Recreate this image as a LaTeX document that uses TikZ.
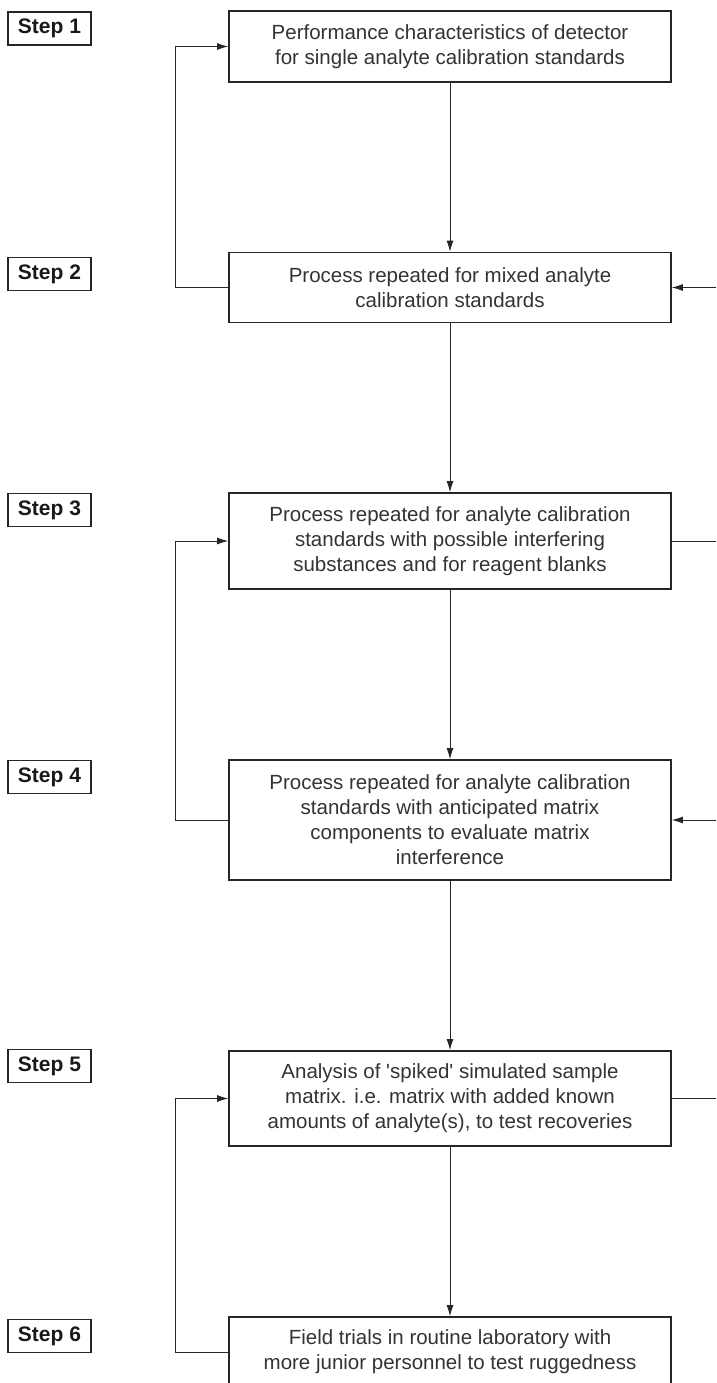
\documentclass[tikz,border=0pt]{standalone}
\usepackage{fontspec}
\setmainfont{Liberation Sans}
\usetikzlibrary{arrows.meta}
\begin{document}
\begin{tikzpicture}[x=1pt,y=-1pt,
 proc/.style={draw=black!85, line width=1.7pt, minimum width=442pt, align=center,
   font=\fontsize{20.5}{25}\selectfont, text=black!80, inner sep=0pt},
 steplbl/.style={draw=black!85, line width=1.5pt, minimum width=83pt, minimum height=33pt,
   font=\fontsize{21}{24}\selectfont\bfseries, text=black!90, inner sep=0pt},
 conn/.style={line width=0.9pt, draw=black!85},
 arr/.style={conn, -{Latex[length=11pt,width=7pt]}}]
\useasboundingbox (0,0) rectangle (716,1383);

% process boxes
\node[proc, minimum height=71pt] (b1) at (450,46.5) {Performance characteristics of detector\\for single analyte calibration standards};
\node[proc, minimum height=70pt] (b2) at (450,287.5) {Process repeated for mixed analyte\\calibration standards};
\node[proc, minimum height=96pt] (b3) at (450,541) {Process repeated for analyte calibration\\standards with possible interfering\\substances and for reagent blanks};
\node[proc, minimum height=120pt] (b4) at (450,820) {Process repeated for analyte calibration\\standards with anticipated matrix\\components to evaluate matrix\\interference};
\node[proc, minimum height=95pt] (b5) at (450,1098.5) {Analysis of \textquotesingle spiked\textquotesingle\ simulated sample\\matrix. i.e. matrix with added known\\amounts of analyte(s), to test recoveries};
\node[proc, minimum height=70pt] (b6) at (450,1352) {Field trials in routine laboratory with\\more junior personnel to test ruggedness};

% step labels
\node[steplbl] (s1) at (49.5,28.5) {Step 1};
\node[steplbl] (s2) at (49.5,274) {Step 2};
\node[steplbl] (s3) at (49.5,510) {Step 3};
\node[steplbl] (s4) at (49.5,777) {Step 4};
\node[steplbl] (s5) at (49.5,1066) {Step 5};
\node[steplbl] (s6) at (49.5,1336) {Step 6};

% main flow
\draw[arr] (b1) -- (b2);
\draw[arr] (b2) -- (b3);
\draw[arr] (b3) -- (b4);
\draw[arr] (b4) -- (b5);
\draw[arr] (b5) -- (b6);

% left feedback loops
\draw[arr] (b2.west) -- (175,287.5) |- (b1.west);
\draw[arr] (b4.west) -- (175,820) |- (b3.west);
\draw[arr] (b6.west) -- (175,1352) |- (b5.west);

% right edge connectors
\coordinate (r2) at (716,287.5);
\coordinate (r3) at (716,541);
\coordinate (r4) at (716,820);
\coordinate (r5) at (716,1098.5);
\draw[arr] (r2) -- (b2.east);
\draw[conn] (b3.east) -- (r3);
\draw[arr] (r4) -- (b4.east);
\draw[conn] (b5.east) -- (r5);
\end{tikzpicture}
\end{document}
